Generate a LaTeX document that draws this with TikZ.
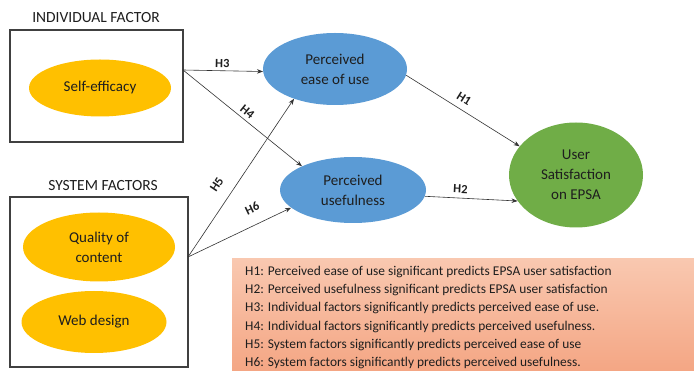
\documentclass[tikz,border=0pt]{standalone}
\usepackage{fontspec}
\setmainfont{Carlito}
\usetikzlibrary{shapes.geometric,arrows.meta}
\definecolor{orangeF}{HTML}{FFC000}
\definecolor{blueF}{HTML}{5B9BD5}
\definecolor{greenF}{HTML}{70AD47}
\definecolor{txt}{HTML}{1E1E1E}
\definecolor{legTop}{RGB}{249,200,176}
\definecolor{legBot}{RGB}{244,166,132}
\tikzset{
  oval/.style={ellipse, draw=none, inner sep=0pt, text=txt, align=center,
    font=\fontsize{15}{20}\selectfont},
  orangeoval/.style={oval, fill=orangeF},
  blueoval/.style={oval, fill=blueF},
  greenoval/.style={oval, fill=greenF},
  groupbox/.style={draw=black!75, line width=1.1pt, fill=none, inner sep=0pt},
  grouptitle/.style={text=txt, font=\fontsize{15.5}{18}\selectfont},
  link/.style={draw=black!80, line width=0.6pt, -{Stealth[length=6pt,width=4.5pt]}},
  hlab/.style={text=txt, font=\bfseries\fontsize{12.5}{14}\selectfont, sloped, inner sep=0pt}
}
\begin{document}
\begin{tikzpicture}[x=1pt,y=-1pt]
\useasboundingbox (0,0) rectangle (694,371);
\fill[white] (0,0) rectangle (694,371);

% legend
\shade[top color=legTop, bottom color=legBot] (232,259) rectangle (694,371);
\node[anchor=north west, align=left, text=txt, inner sep=0pt,
  font=\fontsize{13.4}{18.2}\selectfont] (legend) at (245,266)
  {H1: Perceived ease of use significant predicts EPSA user satisfaction\\
   H2: Perceived usefulness significant predicts EPSA user satisfaction\\
   H3: Individual factors significantly predicts perceived ease of use.\\
   H4: Individual factors significantly predicts perceived usefulness.\\
   H5: System factors significantly predicts perceived ease of use\\
   H6: System factors significantly predicts perceived usefulness.};

% group titles
\node[grouptitle] (t1) at (96,18) {INDIVIDUAL FACTOR};
\node[grouptitle] (t2) at (103,186) {SYSTEM FACTORS};

% group boxes
\node[groupbox, minimum width=173pt, minimum height=112pt] (box1) at (96.5,86) {};
\node[groupbox, minimum width=178pt, minimum height=170pt] (box2) at (99,282) {};

% ellipses
\node[orangeoval, minimum width=142pt, minimum height=57pt] (self) at (100,88) {Self-efficacy};
\node[orangeoval, minimum width=152pt, minimum height=69pt] (qual) at (99,247) {Quality of\\content};
\node[orangeoval, minimum width=145pt, minimum height=62pt] (web) at (94,322) {Web design};
\node[blueoval, minimum width=144pt, minimum height=72pt] (ease) at (335,69) {Perceived\\ease of use};
\node[blueoval, minimum width=146pt, minimum height=66pt] (usef) at (353,190) {Perceived\\usefulness};
\node[greenoval, minimum width=134pt, minimum height=105pt] (sat) at (576,175) {User\\Satisfaction\\on EPSA};

% connector origins on group boxes
\coordinate (o1) at (183,70);
\coordinate (o2) at (188,257);

\draw[link] (o1) -- node[hlab, pos=0.49, above=3pt] {H3} (ease.182);
\draw[link] (o1) -- node[hlab, pos=0.5, above=3.5pt] {H4} (usef.155);
\draw[link] (o2) -- node[hlab, pos=0.4, above=12pt] {H5} (ease.216);
\draw[link] (o2) -- node[hlab, pos=0.69, above=11.5pt] {H6} (usef.196);
\draw[link] (ease.-5) -- node[hlab, pos=0.46, above=6.5pt] {H1} (sat.153);
\draw[link] (usef.-5) -- node[hlab, pos=0.38, above=4.5pt] {H2} (sat.204);
\end{tikzpicture}
\end{document}
